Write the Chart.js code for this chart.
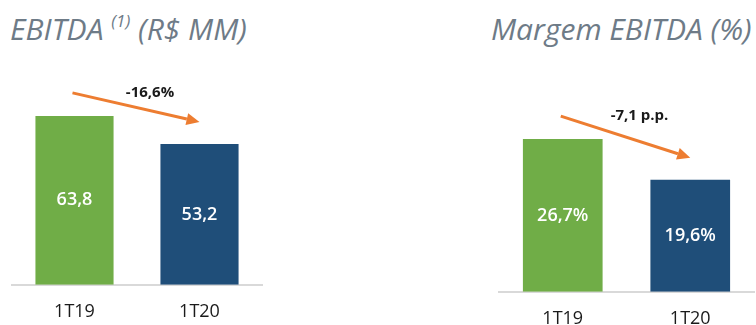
<!DOCTYPE html>
<html>
<head>
<meta charset="utf-8">
<script src="https://cdn.jsdelivr.net/npm/chart.js@4.4.0/dist/chart.umd.min.js"></script>
<style>
  body { margin: 0; background: #fff; width: 756px; height: 325px; overflow: hidden; position: relative; font-family: 'Open Sans', sans-serif; }
  .title { position: absolute; top: 8px; font-style: italic; font-size: 30px; color: #6e7b87; white-space: nowrap; }
  .title sup { font-size: 17px; vertical-align: 13px; }
  canvas { position: absolute; top: 0; }
</style>
</head>
<body>
<div class="title" style="left:10px">EBITDA <sup>(1)</sup> (R$ MM)</div>
<div class="title" style="left:491px">Margem EBITDA (%)</div>
<canvas id="ebitdaChart" width="280" height="360" style="left:0"></canvas>
<canvas id="marginChart" width="290" height="360" style="left:480px"></canvas>
<script>
// data
const categories = ['1T19', '1T20'];
const ebitdaValues = [63.8, 53.2];
const marginValues = [26.7, 19.6];
const ebitdaLabels = ['63,8', '53,2'];
const marginLabels = ['26,7%', '19,6%'];
const ebitdaChange = '-16,6%';
const marginChange = '-7,1 p.p.';
const barColors = ['#70AD47', '#1F4E79'];

// draws the value inside each bar plus the orange trend arrow above them
const annotatePlugin = {
    id: 'annotate',
    afterDatasetsDraw(chart, args, opts) {
        const ctx = chart.ctx;
        const bars = chart.getDatasetMeta(0).data;
        ctx.save();

        ctx.fillStyle = '#ffffff';
        ctx.font = '600 18px "Open Sans"';
        ctx.textAlign = 'center';
        ctx.textBaseline = 'middle';
        bars.forEach((b, i) => ctx.fillText(opts.labels[i], b.x, (b.y + b.base) / 2));

        // arrow from above first bar to above second bar
        const x1 = bars[0].x - 2, y1 = bars[0].y - 23;
        const x2 = bars[1].x, y2 = bars[1].y - 22;
        const ang = Math.atan2(y2 - y1, x2 - x1);
        const head = 13;
        ctx.strokeStyle = '#ED7D31';
        ctx.fillStyle = '#ED7D31';
        ctx.lineWidth = 3;
        ctx.beginPath();
        ctx.moveTo(x1, y1);
        ctx.lineTo(x2 - head * Math.cos(ang), y2 - head * Math.sin(ang));
        ctx.stroke();
        ctx.beginPath();
        ctx.moveTo(x2, y2);
        ctx.lineTo(x2 - head * Math.cos(ang) + 6 * Math.sin(ang), y2 - head * Math.sin(ang) - 6 * Math.cos(ang));
        ctx.lineTo(x2 - head * Math.cos(ang) - 6 * Math.sin(ang), y2 - head * Math.sin(ang) + 6 * Math.cos(ang));
        ctx.closePath();
        ctx.fill();

        ctx.fillStyle = '#1a1a1a';
        ctx.font = 'bold 15px "Open Sans"';
        ctx.fillText(opts.change, (x1 + x2) / 2 + 14, y1);
        ctx.restore();
    }
};

function drawBarChart(id, values, labels, change, yMax, padding) {
    const ctx = document.getElementById(id).getContext('2d');
    return new Chart(ctx, {
        type: 'bar',
        data: {
            labels: categories,
            datasets: [{
                data: values,
                backgroundColor: barColors,
                categoryPercentage: 1,
                barPercentage: 0.625
            }]
        },
        options: {
            responsive: false,
            animation: false,
            layout: { padding: padding },
            plugins: {
                legend: { display: false },
                tooltip: { enabled: false },
                annotate: { labels: labels, change: change }
            },
            scales: {
                x: {
                    grid: { display: false, drawTicks: false },
                    border: { display: true, color: '#d9d9d9', width: 2 },
                    ticks: { color: '#1a1a1a', padding: 16, font: { family: 'Open Sans', size: 18 } }
                },
                y: { display: false, min: 0, max: yMax }
            }
        },
        plugins: [annotatePlugin]
    });
}

drawBarChart('ebitdaChart', ebitdaValues, ebitdaLabels, ebitdaChange, 80,
    { left: 12, right: 18, top: 73, bottom: 21.6 });
drawBarChart('marginChart', marginValues, marginLabels, marginChange, 40,
    { left: 19, right: 16, top: 63, bottom: 14.6 });
</script>
</body>
</html>
